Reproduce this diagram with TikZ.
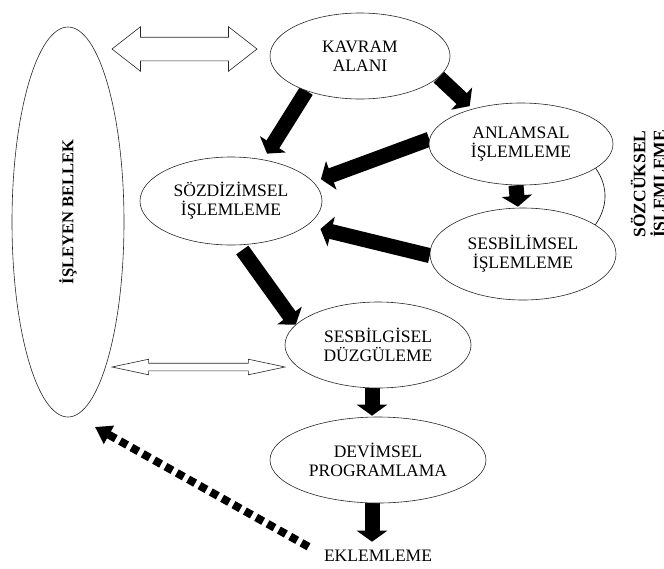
\documentclass[tikz,border=0pt]{standalone}
\usepackage{fontspec}
\setmainfont{Liberation Serif}
\usetikzlibrary{shapes.geometric,shapes.arrows,arrows.meta,backgrounds}

\begin{document}
\begin{tikzpicture}[x=1pt,y=-1pt]
	\tikzstyle{every node}=[font=\fontsize{17.5}{19}\selectfont]
	\tikzstyle{kutu}=[draw=black!85, line width=0.6pt, fill=white, ellipse, inner sep=0pt, align=center]
	\tikzstyle{kalin}=[line width=15pt, -{Triangle[width=30pt,length=11pt]}]
	\tikzstyle{noktali}=[line width=8pt, dash pattern=on 8pt off 5pt, -{Triangle[width=20pt,length=16pt]}]
	\tikzstyle{bos}=[draw=black!85, line width=0.6pt, double arrow, inner xsep=0pt, text height=0pt, text depth=0pt]
	\useasboundingbox (0,0) rectangle (664,568);
	
	%Bellek (gedreht, west = unten)
	\node[kutu, rotate=90, minimum width=390, minimum height=112, font=\bfseries\fontsize{16.5}{19}\selectfont] (bellek) at (68,222) {\hspace*{20pt}İŞLEYEN BELLEK};
	
	%Ellipsen
	\node[kutu, minimum width=180, minimum height=86] (kavram) at (360,56) {KAVRAM\\ALANI};
	\node[kutu, minimum width=184, minimum height=82] (anlamsal) at (521,144) {ANLAMSAL\\İŞLEMLEME};
	\node[kutu, minimum width=186, minimum height=92] (sesbilim) at (523,254) {SESBİLİMSEL\\İŞLEMLEME};
	\node[kutu, minimum width=182, minimum height=88] (sozdizim) at (231,201) {SÖZDİZİMSEL\\İŞLEMLEME};
	\node[kutu, minimum width=186, minimum height=86] (sesbilgi) at (378,345) {SESBİLGİSEL\\DÜZGÜLEME};
	\node[kutu, minimum width=216, minimum height=86] (devimsel) at (378,460) {DEVİMSEL\\PROGRAMLAMA};
	\node (eklem) at (378,556) {EKLEMLEME};
	\node[rotate=90, align=center, font=\bfseries\fontsize{17.5}{20}\selectfont] (sozcuksel) at (650,184) {SÖZCÜKSEL\\İŞLEMLEME};
	
	%Doppelpfeile zum Bellek
	\node[bos, minimum height=145, inner ysep=11.5pt, double arrow head extend=10.5pt, double arrow tip angle=76] (ok1) at (184.5,49) {};
	\node[bos, minimum height=173, inner ysep=3.5pt, double arrow head extend=4pt, double arrow tip angle=24] (ok2) at (198.5,367) {};
	
	\draw[line width=0.6pt] (anlamsal.342) to[out=-55,in=55] (sesbilim.22); %Klammer
	
	%Blockpfeile
	\begin{scope}[on background layer]
	\draw[kalin, shorten >=7pt] (kavram.213) -- (sozdizim.52);
	\draw[kalin, shorten >=4pt] (kavram.345) -- (anlamsal.144);
	\draw[kalin, shorten >=8pt] (anlamsal.177) -- (sozdizim.13);
	\draw[kalin, shorten >=1pt] ([xshift=-5pt]anlamsal.south) -- ([xshift=-5pt]sesbilim.north);
	\draw[kalin, shorten >=14pt] (sesbilim.181) -- (sozdizim.342);
	\draw[kalin, shorten <=6pt] (sozdizim.280) -- (sesbilgi.166);
	\draw[kalin, shorten >=1pt] ([xshift=-6pt]sesbilgi.south) -- ([xshift=-6pt]devimsel.north);
	\draw[kalin, shorten >=5pt] ([xshift=-6pt]devimsel.south) -- ([xshift=-6pt]eklem.north);
	\end{scope}
	
	\coordinate (bellekuc) at (95,427);
	\draw[noktali] ([xshift=-12pt]eklem.north west) -- (bellekuc);
\end{tikzpicture}
\end{document}
